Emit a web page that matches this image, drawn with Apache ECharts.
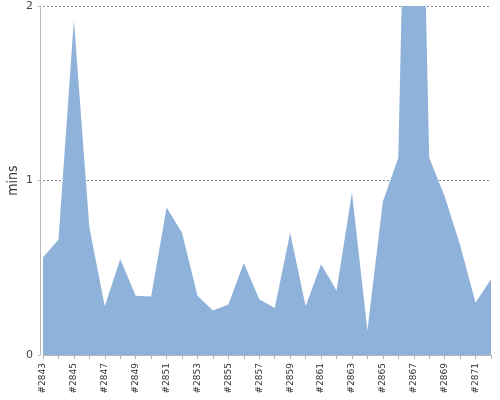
<!DOCTYPE html>
<html>
<head>
<meta charset="utf-8">
<script src="https://cdn.jsdelivr.net/npm/echarts@6/dist/echarts.min.js"></script>
<style>
html,body{margin:0;padding:0;background:#fff;}
#chart{width:500px;height:400px;}
</style>
</head>
<body>
<div id="chart"></div>
<script>
const builds = ['#2843','#2844','#2845','#2846','#2847','#2848','#2849','#2850','#2851','#2852',
  '#2853','#2854','#2855','#2856','#2857','#2858','#2859','#2860','#2861','#2862',
  '#2863','#2864','#2865','#2866','#2867','#2868','#2869','#2870','#2871','#2872'];
const durationMins = [0.56,0.66,1.92,0.73,0.28,0.55,0.34,0.335,0.845,0.70,
  0.34,0.255,0.29,0.527,0.32,0.27,0.70,0.28,0.52,0.37,
  0.93,0.14,0.88,1.13,5.2,1.13,0.91,0.63,0.30,0.435];
const yTicks = {min:0, max:2, interval:1};
const yName = 'mins';

const chart = echarts.init(document.getElementById('chart'));
chart.setOption({
  animation:false,
  backgroundColor:'#ffffff',
  grid:{left:43, right:9, top:6, bottom:45, containLabel:false, outerBoundsMode:'none'},
  xAxis:{
    type:'category', data:builds, boundaryGap:false, offset:5,
    axisLine:{show:true, lineStyle:{color:'#b5b5b5', width:1}},
    axisTick:{show:true, interval:0, length:4, lineStyle:{color:'#b5b5b5'}},
    axisLabel:{interval:1, rotate:90, fontSize:9, color:'#333', margin:3, fontFamily:'DejaVu Sans'},
    splitLine:{show:false}
  },
  yAxis:{
    type:'value', min:yTicks.min, max:yTicks.max, interval:yTicks.interval, offset:3,
    name:yName, nameLocation:'middle', nameRotate:90, nameGap:20, nameMoveOverlap:false,
    nameTextStyle:{fontSize:14, color:'#333', fontFamily:'DejaVu Sans Condensed, DejaVu Sans'},
    axisLine:{show:true, lineStyle:{color:'#b5b5b5', width:1}},
    axisTick:{show:true, length:2, lineStyle:{color:'#b5b5b5'}},
    axisLabel:{fontSize:11, color:'#444', margin:7, fontFamily:'DejaVu Sans'},
    splitLine:{show:true, lineStyle:{color:'#8a8a8a', type:[2,2], width:1}}
  },
  series:[{
    type:'line', data:durationMins, symbol:'none', clip:true,
    lineStyle:{width:0, opacity:0},
    areaStyle:{color:'#8fb2db', opacity:1},
    emphasis:{disabled:true}
  }]
});
</script>
</body>
</html>
